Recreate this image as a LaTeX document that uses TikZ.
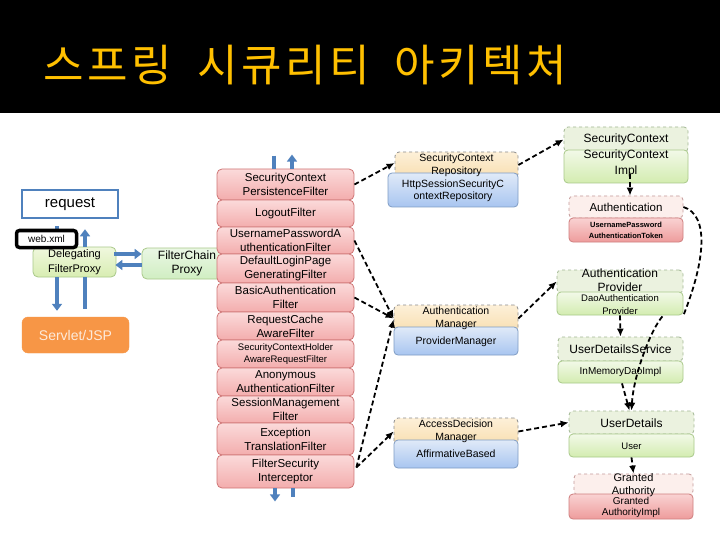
\documentclass[tikz,border=0pt]{standalone}
\usepackage{fontspec}
\setmainfont{Liberation Sans}
\newfontfamily\titlefont{Noto Sans CJK KR}[WordSpace=1.9,LetterSpace=8]
\usetikzlibrary{arrows.meta,calc}
\definecolor{titlegold}{HTML}{FFC000}
\definecolor{arrowblue}{HTML}{4F81BD}
\definecolor{filttop}{HTML}{FBDADA}
\definecolor{filtbot}{HTML}{F3ADAD}
\definecolor{filtbd}{HTML}{CF7575}
\definecolor{tantop}{HTML}{FDF0D8}
\definecolor{tanbot}{HTML}{F8DEB0}
\definecolor{tanbd}{HTML}{8C8C8C}
\definecolor{bluetop}{HTML}{E0EAF8}
\definecolor{bluebot}{HTML}{A8C5F0}
\definecolor{bluebd}{HTML}{7F9CC4}
\definecolor{greenpale}{HTML}{EBF2DF}
\definecolor{greenpbd}{HTML}{A3B895}
\definecolor{greentop}{HTML}{F2F9E8}
\definecolor{greenbot}{HTML}{D3ECB0}
\definecolor{greenbd}{HTML}{A9C98A}
\definecolor{pinkpale}{HTML}{FCEFEC}
\definecolor{pinkpbd}{HTML}{C49A9A}
\definecolor{pinktop}{HTML}{F9D2D2}
\definecolor{pinkbot}{HTML}{EE9C9C}
\definecolor{pinkbd}{HTML}{CF7F7F}
\definecolor{deltop}{HTML}{F0F8DE}
\definecolor{delbot}{HTML}{D8EDB2}
\definecolor{fcptop}{HTML}{EAF7E4}
\definecolor{fcpbot}{HTML}{D0EEC2}
\definecolor{servor}{HTML}{F79646}
\definecolor{servtxt}{HTML}{FDEADA}
\newcommand{\myfs}[2]{\fontsize{#1}{#2}\selectfont}
\begin{document}
\begin{tikzpicture}[x=1pt,y=-1pt,
  filt/.style={rectangle, rounded corners=5pt, draw=filtbd, line width=0.8pt, top color=filttop, bottom color=filtbot, minimum width=137pt, inner sep=0pt, align=center, font=\myfs{11.5}{14}},
  tanbox/.style={rectangle, rounded corners=4pt, draw=tanbd, dashed, line width=0.8pt, top color=tantop, bottom color=tanbot, minimum width=124pt, inner sep=0pt},
  bluebox/.style={rectangle, rounded corners=4pt, draw=bluebd, line width=0.8pt, top color=bluetop, bottom color=bluebot, minimum width=124pt, inner sep=0pt},
  gpale/.style={rectangle, rounded corners=4pt, draw=greenpbd, dashed, line width=0.8pt, fill=greenpale, inner sep=0pt},
  gbox/.style={rectangle, rounded corners=4pt, draw=greenbd, line width=0.8pt, top color=greentop, bottom color=greenbot, inner sep=0pt},
  ppale/.style={rectangle, rounded corners=4pt, draw=pinkpbd, dashed, line width=0.8pt, fill=pinkpale, inner sep=0pt},
  pbox/.style={rectangle, rounded corners=4pt, draw=pinkbd, line width=0.8pt, top color=pinktop, bottom color=pinkbot, inner sep=0pt},
  lbl/.style={inner sep=0pt, align=center},
  conn/.style={draw=black, line width=1.8pt, dash pattern=on 5pt off 3pt, -{Latex[length=8pt,width=7pt]}},
  connplain/.style={draw=black, line width=1.8pt, dash pattern=on 5pt off 3pt},
  blu/.style={draw=arrowblue, line width=3.5pt},
  btip/.style={-{Triangle[length=7pt,width=10pt]}}
]
\useasboundingbox (0,0) rectangle (720,540);
\fill[white] (0,0) rectangle (720,540);
\fill[black] (0,0) rectangle (720,113);
\node[anchor=west, text=titlegold, font=\titlefont\myfs{44}{50}, inner sep=0pt] (title) at (43,65) {스프링 시큐리티 아키텍처};

% left column
\node[draw=arrowblue, line width=2.5pt, fill=white, minimum width=96pt, minimum height=28pt, inner sep=0pt, font=\myfs{15}{18}] (request) at (70,204) {request};
\node[rectangle, rounded corners=5pt, draw=greenbd, line width=0.8pt, top color=deltop, bottom color=delbot, minimum width=83pt, minimum height=30pt, inner sep=0pt, align=center, font=\myfs{11}{15}] (deleg) at (74.5,262) {Delegating\\FilterProxy};
\node[rectangle, rounded corners=5pt, draw=greenbd, line width=0.8pt, top color=fcptop, bottom color=fcpbot, minimum width=90pt, minimum height=31pt, inner sep=0pt, align=center, font=\myfs{12}{14}] (fcp) at (187,263.5) {FilterChain\\Proxy};
\node[rectangle, rounded corners=6pt, draw=servor, fill=servor, minimum width=107pt, minimum height=36pt, inner sep=0pt, text=servtxt, font=\myfs{14}{17}] (servlet) at (75.5,335) {Servlet/JSP};

% blue flow arrows
\draw[blu,btip] ($(request.south)+(-13,7)$) -- ($(deleg.north)+(-17.5,0)$);
\draw[blu,btip] ($(deleg.south)+(-17.5,0)$) -- ($(servlet.north)+(-18.5,-6)$);
\draw[blu] ($(servlet.north)+(9.5,-8)$) -- ($(deleg.south)+(10.5,0)$);
\draw[blu,btip] ($(deleg.north)+(10.5,0)$) -- ($(request.south)+(15,10)$);
\draw[blu,btip] ($(deleg.east)+(-2,-8)$) -- ($(fcp.west)+(0,-9.5)$);
\draw[blu,btip] ($(fcp.west)+(0,1.5)$) -- ($(deleg.east)+(-1,3)$);

\node[rectangle, rounded corners=3pt, draw=black, line width=3.5pt, fill=white, minimum width=60pt, minimum height=17pt, inner sep=0pt, font=\myfs{10}{12}] (webxml) at (46.5,239) {web.xml};

% filter chain stack
\node[filt, minimum height=31pt] (scpf) at (285.5,184.5) {SecurityContext\\PersistenceFilter};
\node[filt, minimum height=27pt] (logout) at (285.5,213.5) {LogoutFilter};
\node[filt, minimum height=27pt] (upaf) at (285.5,240.5) {UsernamePasswordA\\uthenticationFilter};
\node[filt, minimum height=29pt] (dlpg) at (285.5,268.5) {DefaultLoginPage\\GeneratingFilter};
\node[filt, minimum height=29pt] (basic) at (285.5,297.5) {BasicAuthentication\\Filter};
\node[filt, minimum height=28pt] (rcaf) at (285.5,326) {RequestCache\\AwareFilter};
\node[filt, minimum height=28pt, font=\myfs{9.5}{11.5}] (schar) at (285.5,354) {SecurityContextHolder\\AwareRequestFilter};
\node[filt, minimum height=28pt] (anon) at (285.5,382) {Anonymous\\AuthenticationFilter};
\node[filt, minimum height=27pt] (smf) at (285.5,409.5) {SessionManagement\\Filter};
\node[filt, minimum height=32pt] (etf) at (285.5,439) {Exception\\TranslationFilter};
\node[filt, minimum height=33pt] (fsi) at (285.5,471.5) {FilterSecurity\\Interceptor};

\draw[blu] ($(scpf.north)+(-11.5,-13)$) -- ($(scpf.north)+(-11.5,0)$);
\draw[blu,btip] ($(scpf.north)+(6.5,0)$) -- ($(scpf.north)+(6.5,-14)$);
\draw[blu,btip] ($(fsi.south)+(-10.5,0)$) -- ($(fsi.south)+(-10.5,13)$);
\draw[blu] ($(fsi.south)+(7.5,0)$) -- ($(fsi.south)+(7.5,9)$);

% middle column
\node[tanbox, minimum width=123pt, minimum height=26pt] (scrU) at (456.5,165) {};
\node[bluebox, minimum width=130pt, minimum height=34pt] (scrL) at (453,190) {};
\node[lbl, font=\myfs{10.5}{13}] (scrUt) at ($(scrU)+(0,0.5)$) {SecurityContext\\Repository};
\node[lbl, font=\myfs{10.5}{12.5}] (scrLt) at ($(scrL)+(0,1)$) {HttpSessionSecurityC\\ontextRepository};

\node[tanbox, minimum height=27pt] (amU) at (456,318.5) {};
\node[bluebox, minimum height=28pt] (amL) at (456,341) {};
\node[lbl, font=\myfs{10.5}{13}] (amUt) at (amU) {Authentication\\Manager};
\node[lbl, font=\myfs{10.5}{12.5}] (amLt) at ($(amL)+(0,0.5)$) {ProviderManager};

\node[tanbox, minimum height=27pt] (adU) at (456,431.5) {};
\node[bluebox, minimum height=28pt] (adL) at (456,454) {};
\node[lbl, font=\myfs{10.5}{13}] (adUt) at (adU) {AccessDecision\\Manager};
\node[lbl, font=\myfs{10.5}{12.5}] (adLt) at (adL) {AffirmativeBased};

% right column
\node[gpale, minimum width=124pt, minimum height=25pt] (scU) at (626,139.5) {};
\node[gbox, minimum width=124pt, minimum height=33pt] (scL) at (626,166.5) {};
\node[lbl, font=\myfs{12}{15}] (scUt) at ($(scU)+(0,-0.5)$) {SecurityContext};
\node[lbl, font=\myfs{12}{16}] (scLt) at ($(scL)+(0,-3.5)$) {SecurityContext\\Impl};

\node[ppale, minimum width=114pt, minimum height=22pt] (auU) at (626,207) {};
\node[pbox, minimum width=114pt, minimum height=24pt] (auL) at (626,230) {};
\node[lbl, font=\myfs{11.5}{14}] (auUt) at (auU) {Authentication};
\node[lbl, font=\bfseries\myfs{7.5}{11}] (auLt) at ($(auL)+(0,0.5)$) {UsernamePassword\\AuthenticationToken};

\node[gpale, minimum width=126pt, minimum height=23pt] (apU) at (620,281.5) {};
\node[gbox, minimum width=126pt, minimum height=23pt] (apL) at (620,303.5) {};
\node[lbl, font=\myfs{12}{14}] (apUt) at ($(apU)+(0,-1.5)$) {Authentication\\Provider};
\node[lbl, font=\myfs{9.5}{13.5}] (apLt) at ($(apL)+(0,1)$) {DaoAuthentication\\Provider};

\node[gpale, minimum width=125pt, minimum height=24pt] (udsU) at (620.5,349) {};
\node[gbox, minimum width=125pt, minimum height=22pt] (udsL) at (620.5,372) {};
\node[lbl, font=\myfs{12}{15}] (udsUt) at (udsU) {UserDetailsService};
\node[lbl, font=\myfs{10}{12}] (udsLt) at (udsL) {InMemoryDaoImpl};

\node[gpale, minimum width=125pt, minimum height=23pt] (udU) at (631.5,422.5) {};
\node[gbox, minimum width=125pt, minimum height=23pt] (udL) at (631.5,445.5) {};
\node[lbl, font=\myfs{12}{15}] (udUt) at ($(udU)+(0,0.5)$) {UserDetails};
\node[lbl, font=\myfs{9.5}{12}] (udLt) at ($(udL)+(0,0.5)$) {User};

\node[ppale, minimum width=119pt, minimum height=21pt] (gaU) at (633.5,484.5) {};
\node[pbox, minimum width=124pt, minimum height=25pt] (gaL) at (631,506.5) {};
\node[lbl, font=\myfs{11}{13}] (gaUt) at ($(gaU)+(0,1)$) {Granted\\Authority};
\node[lbl, font=\myfs{10}{11}] (gaLt) at ($(gaL)+(0,1)$) {Granted\\AuthorityImpl};

% dashed dependencies
\draw[conn] (scpf.east) -- ($(scrU.west)+(0,-2)$);
\draw[conn] (scrU.east) -- (scU.west);
\draw[conn] ($(scL.south)+(4,-9)$) -- ($(auU.north)+(4,0)$);
\draw[conn] (upaf.east) -- (amU.west);
\draw[conn] (basic.east) -- (amU.west);
\draw[conn] ($(fsi.east)+(2,-4)$) -- ($(amU.west)+(0,1)$);
\draw[conn] ($(fsi.east)+(2,-4)$) -- (adU.west);
\draw[conn] (amU.east) -- (apU.west);
\draw[conn] (adU.east) -- (udU.west);
\draw[conn] (apL.south) -- (udsU.north);
\draw[conn] ($(udsL.south)+(1.5,0)$) -- ($(udU.north)+(-2,0)$);
\draw[conn] (udL.south) -- (gaU.north);
\draw[connplain] (auU.east) .. controls ($(auU.east)+(26,8)$) and ($(apL.south east)+(22,-55)$) .. (apL.south east);
\draw[conn] ($(apL.south east)+(-21,1)$) .. controls ($(apL.south east)+(-33,15)$) and ($(udU.north)+(2,-35)$) .. (udU.north);
\end{tikzpicture}
\end{document}
